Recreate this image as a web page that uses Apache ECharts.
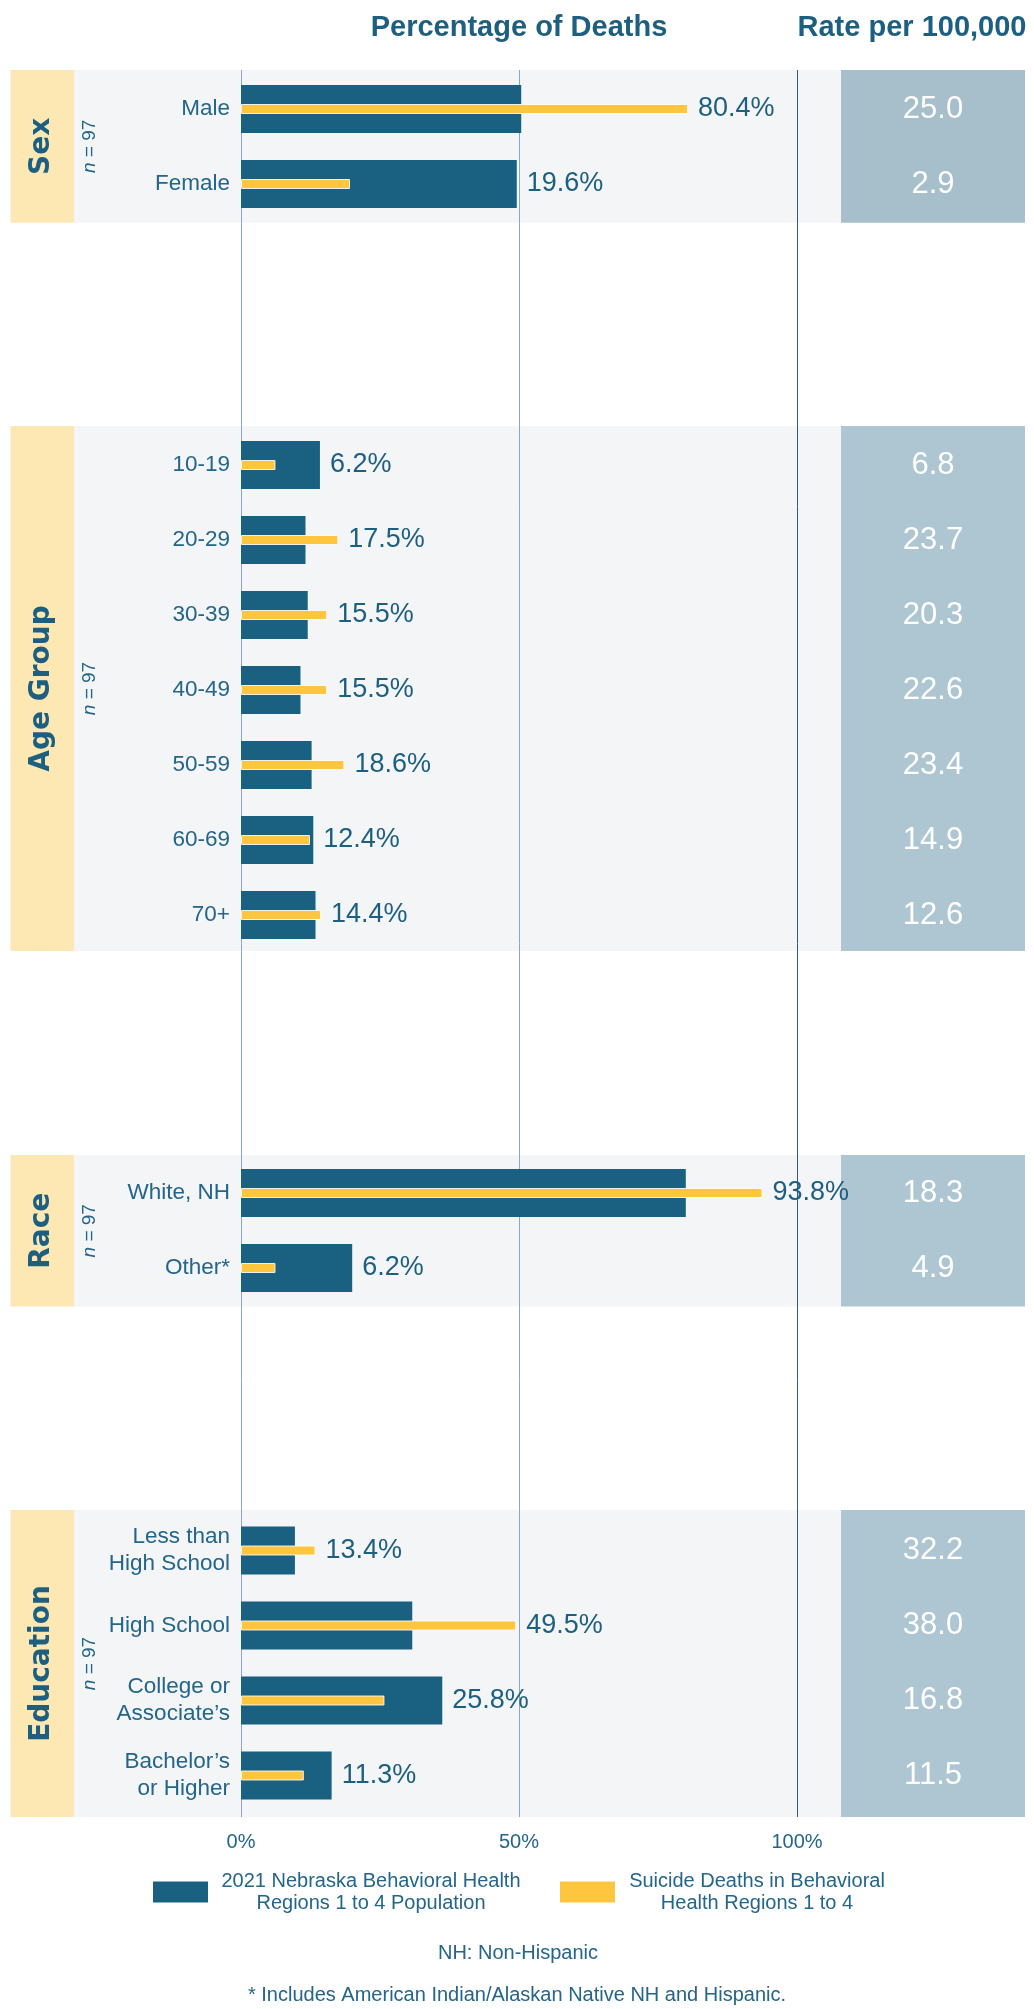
<!DOCTYPE html>
<html><head><meta charset="utf-8">
<script src="https://cdn.jsdelivr.net/npm/echarts@6/dist/echarts.min.js"></script>
<style>html,body{margin:0;padding:0;background:#fff}#c{width:1034px;height:2009px}</style>
</head><body><div id="c"></div>
<script>
// ---------------- DATA ----------------
const sexCats = ['Male', 'Female'];
const sexPop = [50.4, 49.6];
const sexDeaths = [80.4, 19.6];
const sexRates = [25.0, 2.9];

const ageCats = ['10-19', '20-29', '30-39', '40-49', '50-59', '60-69', '70+'];
const agePop = [14.2, 11.6, 12.0, 10.7, 12.7, 13.0, 13.4];
const ageDeaths = [6.2, 17.5, 15.5, 15.5, 18.6, 12.4, 14.4];
const ageRates = [6.8, 23.7, 20.3, 22.6, 23.4, 14.9, 12.6];

const raceCats = ['White, NH', 'Other*'];
const racePop = [80.0, 20.0];
const raceDeaths = [93.8, 6.2];
const raceRates = [18.3, 4.9];

const eduCats = ['Less than\nHigh School', 'High School', 'College or\nAssociate’s', 'Bachelor’s\nor Higher'];
const eduPop = [9.7, 30.8, 36.2, 16.3];
const eduDeaths = [13.4, 49.5, 25.8, 11.3];
const eduRates = [32.2, 38.0, 16.8, 11.5];

const panelTitles = ['Sex', 'Age Group', 'Race', 'Education'];
const sampleSizes = [97, 97, 97, 97];
const popLegendLines = ['2021 Nebraska Behavioral Health', 'Regions 1 to 4 Population'];
const deathLegendLines = ['Suicide Deaths in Behavioral', 'Health Regions 1 to 4'];
const chartTitle = 'Percentage of Deaths';
const rateTitle = 'Rate per 100,000';
const noteNH = 'NH: Non-Hispanic';
const noteOther = '* Includes American Indian/Alaskan Native NH and Hispanic.';

// ---------------- LAYOUT / STYLE ----------------
const FONT = '"Liberation Sans", Arial, Helvetica, sans-serif';
const TEAL = '#1a6181';
const TEXT = '#24658a';
const YELLOW = '#fec63e';
const panels = [
  { cats: sexCats, pop: sexPop, deaths: sexDeaths, rates: sexRates, bgTop: 70, bgBottom: 222.7, top: 71.5, h: 150, rateBg: '#a6bfcb' },
  { cats: ageCats, pop: agePop, deaths: ageDeaths, rates: ageRates, bgTop: 426, bgBottom: 951, top: 427.5, h: 525, rateBg: '#aec6d2' },
  { cats: raceCats, pop: racePop, deaths: raceDeaths, rates: raceRates, bgTop: 1155, bgBottom: 1306.5, top: 1155.5, h: 150, rateBg: '#aec6d2' },
  { cats: eduCats, pop: eduPop, deaths: eduDeaths, rates: eduRates, bgTop: 1510, bgBottom: 1817, top: 1513, h: 300, rateBg: '#aec6d2' }
];
const popName = popLegendLines.join(' ');
const deathName = deathLegendLines.join(' ');

const grid = [{ left: 241, width: 556, top: 70, height: 1747, show: false }];
const xAxis = [{
  gridIndex: 0, type: 'value', min: 0, max: 100, interval: 50, z: 1,
  axisLine: { show: false }, axisTick: { show: false },
  axisLabel: { formatter: '{value}%', fontSize: 20, color: TEXT, fontFamily: FONT, margin: 15 },
  splitLine: { show: true, lineStyle: { width: 1, color: ['#86a9be', '#86a9be', '#2e5b79'] } }
}];
const yAxis = [{ gridIndex: 0, type: 'value', min: 0, max: 1, show: false }];
const series = [];
const graphic = [];

panels.forEach((p, k) => {
  grid.push({ left: 241, width: 556, top: p.top, height: p.h, show: false });
  const gBar = grid.length - 1;
  grid.push({ left: 841, width: 184, top: p.top, height: p.h, show: false });
  const gRate = grid.length - 1;

  xAxis.push({ gridIndex: gBar, type: 'value', min: 0, max: 100, show: false });
  const xBar = xAxis.length - 1;
  xAxis.push({ gridIndex: gRate, type: 'category', data: ['Rate'], show: false });
  const xRate = xAxis.length - 1;

  yAxis.push({
    gridIndex: gBar, type: 'category', data: p.cats, inverse: true,
    axisLine: { show: false }, axisTick: { show: false }, splitLine: { show: false },
    axisLabel: { fontSize: 22.5, color: TEXT, fontFamily: FONT, margin: 11, lineHeight: 27 }
  });
  const yPop = yAxis.length - 1;
  yAxis.push({ gridIndex: gBar, type: 'category', data: p.cats, inverse: true, show: false });
  const yDeath = yAxis.length - 1;
  yAxis.push({ gridIndex: gRate, type: 'category', data: p.cats, inverse: true, show: false });
  const yRate = yAxis.length - 1;

  const lbl = {
    position: 'right', distance: 10, fontSize: 27, color: '#1d5f80', fontFamily: FONT,
    formatter: (prm) => p.deaths[prm.dataIndex].toFixed(1) + '%'
  };
  series.push({
    type: 'bar', name: popName, xAxisIndex: xBar, yAxisIndex: yPop, barWidth: 48, z: 2,
    itemStyle: { color: TEAL },
    label: Object.assign({ show: false }, lbl),
    data: p.pop.map((v, i) => ({ value: v, label: { show: v >= p.deaths[i] } }))
  });
  series.push({
    type: 'bar', name: deathName, xAxisIndex: xBar, yAxisIndex: yDeath, barWidth: 10, z: 3,
    itemStyle: { color: YELLOW, borderColor: 'rgba(255,255,255,0.85)', borderWidth: 1 },
    label: Object.assign({ show: false }, lbl),
    data: p.deaths.map((v, i) => ({ value: v, label: { show: v > p.pop[i] } }))
  });
  series.push({
    type: 'scatter', xAxisIndex: xRate, yAxisIndex: yRate, symbolSize: 1, z: 3,
    itemStyle: { color: p.rateBg, opacity: 1 },
    label: {
      show: true, position: 'inside', fontSize: 31, color: '#ffffff', opacity: 1, fontFamily: FONT,
      formatter: (prm) => prm.value[2].toFixed(1)
    },
    data: p.rates.map((r, i) => [0, i, r])
  });

  const hh = p.bgBottom - p.bgTop;
  const cy = (p.bgTop + p.bgBottom) / 2;
  graphic.push({ type: 'rect', z: 0, silent: true, shape: { x: 10.5, y: p.bgTop, width: 63.5, height: hh }, style: { fill: '#fde8b4' } });
  graphic.push({ type: 'rect', z: 0, silent: true, shape: { x: 74, y: p.bgTop, width: 767, height: hh }, style: { fill: '#f3f5f7' } });
  graphic.push({ type: 'rect', z: 0, silent: true, shape: { x: 841, y: p.bgTop, width: 184, height: hh }, style: { fill: p.rateBg } });
  graphic.push({
    type: 'text', z: 5, silent: true, x: 42, y: cy, rotation: Math.PI / 2,
    style: { text: panelTitles[k], font: 'bold 28px "DejaVu Sans", sans-serif', fill: '#1d5f80', align: 'center', verticalAlign: 'middle' }
  });
  graphic.push({
    type: 'text', z: 5, silent: true, x: 89.5, y: cy, rotation: Math.PI / 2,
    style: {
      text: '{i|n}{r| = ' + sampleSizes[k] + '}', align: 'center', verticalAlign: 'middle',
      font: '19px ' + FONT, fill: TEXT,
      rich: { i: { font: 'italic 19px ' + FONT, fill: TEXT }, r: { font: '19px ' + FONT, fill: TEXT } }
    }
  });
});

graphic.push({ type: 'text', z: 5, silent: true, x: 519, y: 28, style: { text: chartTitle, font: 'bold 29px ' + FONT, fill: '#1d5f80', align: 'center', verticalAlign: 'middle' } });
graphic.push({ type: 'text', z: 5, silent: true, x: 912, y: 28, style: { text: rateTitle, font: 'bold 29px ' + FONT, fill: '#1d5f80', align: 'center', verticalAlign: 'middle' } });
graphic.push({ type: 'text', z: 5, silent: true, x: 518, y: 1953, style: { text: noteNH, font: '20px ' + FONT, fill: TEXT, align: 'center', verticalAlign: 'middle' } });
graphic.push({ type: 'text', z: 5, silent: true, x: 517, y: 1995, style: { text: noteOther, font: '20px ' + FONT, fill: TEXT, align: 'center', verticalAlign: 'middle' } });

const option = {
  animation: false,
  backgroundColor: '#ffffff',
  grid, xAxis, yAxis, series,
  graphic: { elements: graphic },
  legend: {
    data: [popName, deathName], left: 153, top: 1871, padding: 0, itemGap: 39,
    itemWidth: 55, itemHeight: 21, icon: 'rect', selectedMode: false,
    itemStyle: { borderWidth: 0 },
    formatter: (name) => name === popName
      ? '{a|' + popLegendLines[0] + '}\n{a|' + popLegendLines[1] + '}'
      : '{b|' + deathLegendLines[0] + '}\n{b|' + deathLegendLines[1] + '}',
    textStyle: {
      color: TEXT, fontSize: 20, fontFamily: FONT, padding: [0, 0, 0, 8],
      rich: {
        a: { width: 300, align: 'center', fontSize: 20, lineHeight: 22, color: TEXT, fontFamily: FONT },
        b: { width: 258, align: 'center', fontSize: 20, lineHeight: 22, color: TEXT, fontFamily: FONT }
      }
    }
  }
};
const chart = echarts.init(document.getElementById('c'), null, { renderer: 'canvas' });
chart.setOption(option);
</script></body></html>
